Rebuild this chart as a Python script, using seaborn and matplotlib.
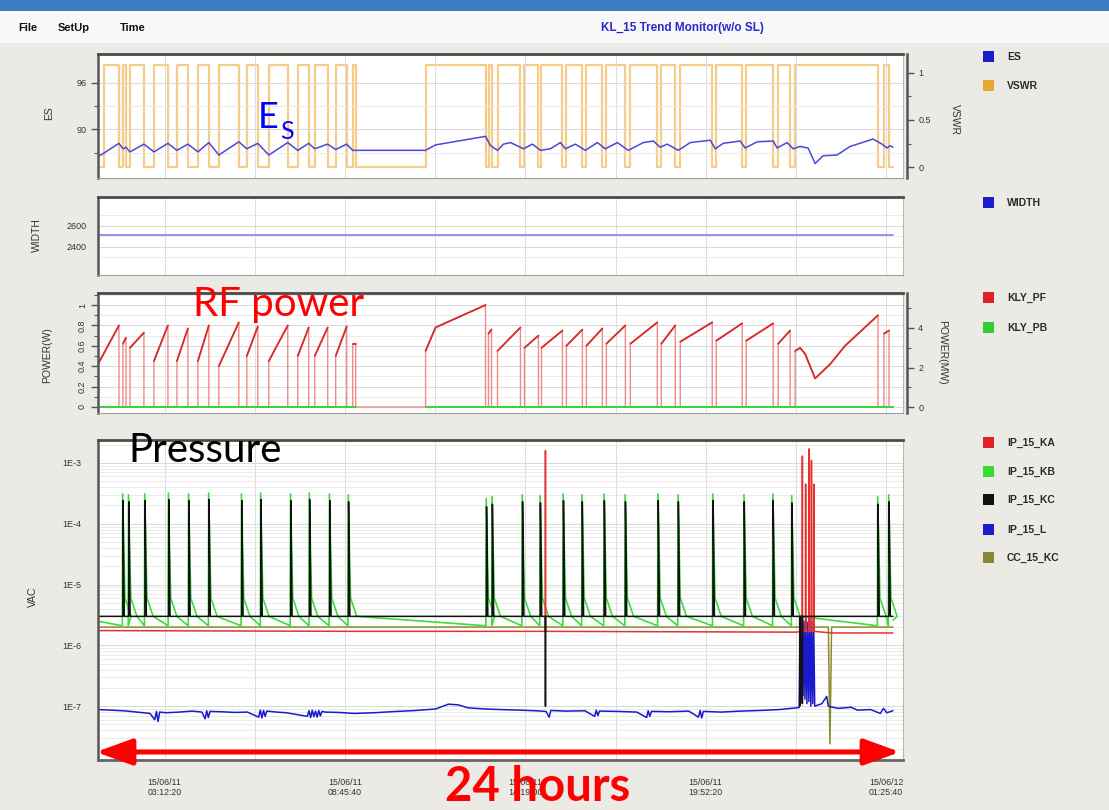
import matplotlib
matplotlib.use("Agg")
import matplotlib.pyplot as plt
import matplotlib.ticker as mticker
from matplotlib.patches import Rectangle, FancyArrowPatch
from matplotlib import font_manager
import seaborn as sns

# ---------------- data (time = hours from the left edge of the window) ----------------
x_major_hours = [2.055, 7.611, 13.166, 18.722, 24.277]
x_minor_hours = [4.833, 10.389, 15.944, 21.500]
x_tick_labels = ["15/06/11\n03:12:20", "15/06/11\n08:45:40", "15/06/11\n14:19:00",
                 "15/06/11\n19:52:20", "15/06/12\n01:25:40"]
x_window = [0.0, 24.8]
t_last = 24.49

# ES (left axis of panel 1)
es_t = [0.00, 0.09, 0.646, 0.77, 0.862, 0.985, 1.415, 1.723, 2.154, 2.431, 2.769, 3.077, 3.415,
        3.723, 4.338, 4.585, 4.923, 5.262, 5.846, 6.154, 6.492, 6.677, 7.077, 7.323, 7.662, 7.846,
        7.94, 10.092, 10.40, 11.938, 12.092, 12.308, 12.492, 12.708, 13.108, 13.385, 13.631, 13.938,
        14.246, 14.400, 14.708, 15.015, 15.385, 15.631, 16.000, 16.338, 16.800, 17.108, 17.323,
        17.538, 17.877, 18.246, 18.862, 19.015, 19.262, 19.785, 19.938, 20.308, 20.800, 20.923,
        21.231, 21.415, 21.631, 21.877, 22.092, 22.338, 22.769, 23.169, 23.877, 24.154, 24.308,
        24.400, 24.49]
es_v = [86.6, 86.7, 88.2, 87.5, 87.7, 87.1, 88.1, 87.1, 88.2, 87.3, 88.1, 87.1, 88.3,
        86.7, 88.4, 87.5, 88.2, 86.7, 88.3, 87.3, 88.2, 87.5, 88.1, 87.4, 88.1, 87.3,
        87.3, 87.3, 88.0, 89.1, 87.9, 87.3, 88.1, 88.3, 87.5, 88.1, 87.3, 87.5,
        88.3, 87.5, 88.1, 87.3, 88.3, 87.5, 88.3, 87.3, 88.3, 88.5, 87.7,
        88.1, 87.3, 88.3, 88.6, 87.5, 88.2, 88.5, 87.6, 88.4, 88.5, 87.6,
        88.3, 87.5, 87.8, 87.6, 85.6, 86.6, 86.7, 87.8, 88.75, 88.1, 87.6,
        87.9, 87.7]

# VSWR (right axis of panel 1): high between these times, low otherwise
vswr_on_start = [0.18, 0.769, 0.985, 1.723, 2.431, 3.077, 3.723, 4.585, 5.262, 6.154, 6.677, 7.323,
                 7.846, 10.092, 12.031, 12.308, 13.138, 13.662, 14.431, 15.046, 15.662, 16.400,
                 17.354, 17.938, 19.046, 19.969, 20.954, 21.477, 24.215]
vswr_on_end = [0.646, 0.862, 1.415, 2.154, 2.769, 3.415, 4.338, 4.923, 5.846, 6.492, 7.077, 7.662,
               7.938, 11.938, 12.123, 13.015, 13.569, 14.308, 14.923, 15.538, 16.246, 17.231,
               17.785, 18.923, 19.846, 20.800, 21.323, 24.031, 24.369]
vswr_high = 1.08
vswr_low = 0.0

# WIDTH
width_t = [0.0, t_last]
width_v = [2510, 2510]

# KLY_PF: ramps (time, power) of every RF period
power_cycles = [
    [(0.000, 0.42), (0.646, 0.80)],
    [(0.769, 0.62), (0.862, 0.68)],
    [(0.985, 0.58), (1.415, 0.73)],
    [(1.723, 0.45), (2.154, 0.80)],
    [(2.431, 0.45), (2.769, 0.77)],
    [(3.077, 0.45), (3.415, 0.80)],
    [(3.723, 0.40), (4.338, 0.83)],
    [(4.585, 0.50), (4.923, 0.79)],
    [(5.262, 0.45), (5.846, 0.80)],
    [(6.154, 0.50), (6.492, 0.78)],
    [(6.677, 0.50), (7.077, 0.78)],
    [(7.323, 0.50), (7.662, 0.79)],
    [(7.846, 0.62), (7.938, 0.62)],
    [(10.092, 0.55), (10.400, 0.78), (11.938, 1.00)],
    [(12.031, 0.72), (12.123, 0.76)],
    [(12.308, 0.55), (13.015, 0.78)],
    [(13.138, 0.58), (13.569, 0.70)],
    [(13.662, 0.58), (14.308, 0.75)],
    [(14.431, 0.60), (14.923, 0.76)],
    [(15.046, 0.60), (15.538, 0.77)],
    [(15.662, 0.62), (16.246, 0.80)],
    [(16.400, 0.62), (17.231, 0.83)],
    [(17.354, 0.62), (17.785, 0.80)],
    [(17.938, 0.64), (18.923, 0.83)],
    [(19.046, 0.65), (19.846, 0.82)],
    [(19.969, 0.65), (20.800, 0.82)],
    [(20.954, 0.62), (21.323, 0.75)],
    [(21.477, 0.55), (21.631, 0.58), (21.785, 0.52), (22.092, 0.28), (22.554, 0.42),
     (23.015, 0.60), (24.031, 0.90)],
    [(24.215, 0.72), (24.369, 0.75)],
]
# KLY_PB
pb_segments = [(0.0, 7.94), (10.09, t_last)]
pb_level = 0.0

# Vacuum
kc_spike_t = [0.77, 0.95, 1.45, 2.18, 2.80, 3.42, 4.43, 5.02, 5.94, 6.52, 7.14, 7.72, 11.97, 12.15,
              13.08, 13.63, 14.34, 14.92, 15.60, 16.25, 17.26, 17.88, 18.95, 19.91, 20.80, 21.38,
              24.03, 24.37]
kc_spike_v = [2.4e-4, 2.3e-4, 2.4e-4, 2.5e-4, 2.4e-4, 2.5e-4, 2.4e-4, 2.5e-4, 2.4e-4, 2.5e-4,
              2.4e-4, 2.3e-4, 1.9e-4, 2.1e-4, 2.3e-4, 2.2e-4, 2.4e-4, 2.3e-4, 2.4e-4, 2.3e-4,
              2.4e-4, 2.3e-4, 2.4e-4, 2.3e-4, 2.4e-4, 2.2e-4, 2.1e-4, 2.3e-4]
kb_spike_v = [3.1e-4, 3.0e-4, 3.1e-4, 3.2e-4, 3.1e-4, 3.2e-4, 3.1e-4, 3.2e-4, 3.1e-4, 3.2e-4,
              3.1e-4, 3.0e-4, 2.6e-4, 2.8e-4, 3.0e-4, 2.9e-4, 3.1e-4, 3.0e-4, 3.1e-4, 3.0e-4,
              3.1e-4, 3.0e-4, 3.1e-4, 3.0e-4, 3.1e-4, 2.9e-4, 2.8e-4, 3.0e-4]
kc_base = 3.0e-6
kc_drop_t = [13.785, 21.62, 21.70]
kc_drop_v = [1.0e-7, 1.0e-7, 1.1e-7]
kb_low, kb_after, kb_high = 2.1e-6, 6.0e-6, 3.0e-6
ka_base_t = [0.0, 7.94, 11.94, 21.5, 22.6, t_last]
ka_base_v = [1.75e-6, 1.7e-6, 1.7e-6, 1.65e-6, 1.6e-6, 1.6e-6]
ka_spike_t = [13.785, 21.70, 21.80, 21.90, 21.98, 22.05]
ka_spike_v = [1.6e-3, 1.3e-3, 4.5e-4, 1.7e-3, 1.1e-3, 4.5e-4]
cc_t = [0.0, 22.50, 22.55, 22.60, t_last]
cc_v = [2.0e-6, 2.0e-6, 2.4e-8, 2.0e-6, 2.0e-6]
ip_l_points = [
    (0.00, 8.8e-8), (0.40, 8.6e-8), (0.80, 8.4e-8), (1.20, 8.0e-8), (1.60, 7.6e-8), (1.75, 6.0e-8),
    (1.80, 8.2e-8), (1.85, 5.6e-8), (1.90, 8.0e-8), (2.10, 7.8e-8), (2.50, 8.0e-8), (2.90, 8.3e-8),
    (3.20, 8.0e-8), (3.30, 6.2e-8), (3.35, 8.4e-8), (3.40, 6.5e-8), (3.45, 8.2e-8), (3.80, 8.1e-8),
    (4.20, 7.9e-8), (4.60, 8.0e-8), (4.95, 6.6e-8), (5.00, 8.6e-8), (5.05, 6.4e-8), (5.10, 8.5e-8),
    (5.15, 6.8e-8), (5.20, 8.3e-8), (5.50, 8.0e-8), (5.80, 7.8e-8), (6.45, 6.8e-8), (6.50, 8.4e-8),
    (6.55, 6.5e-8), (6.60, 8.6e-8), (6.65, 6.7e-8), (6.70, 8.3e-8), (6.75, 6.6e-8), (6.80, 8.5e-8),
    (6.85, 6.9e-8), (6.90, 8.2e-8), (7.00, 8.0e-8), (7.40, 7.9e-8), (7.90, 7.6e-8), (8.50, 7.8e-8),
    (9.20, 8.2e-8), (9.80, 8.5e-8), (10.40, 9.0e-8), (10.80, 1.08e-7), (11.10, 1.05e-7),
    (11.40, 9.4e-8), (11.90, 9.0e-8), (12.40, 8.8e-8), (13.00, 8.6e-8), (13.50, 8.4e-8),
    (13.80, 8.2e-8), (13.90, 6.6e-8), (13.95, 8.5e-8), (14.40, 8.3e-8), (15.00, 8.4e-8),
    (15.30, 6.8e-8), (15.35, 8.6e-8), (15.40, 7.0e-8), (15.45, 8.3e-8), (16.00, 8.2e-8),
    (16.60, 8.0e-8), (16.90, 6.5e-8), (16.95, 8.4e-8), (17.00, 6.8e-8), (17.05, 8.2e-8),
    (17.60, 8.1e-8), (18.20, 8.3e-8), (18.50, 6.6e-8), (18.55, 8.5e-8), (18.60, 6.4e-8),
    (18.65, 8.2e-8), (19.20, 8.0e-8), (19.80, 8.3e-8), (20.40, 8.5e-8), (21.00, 8.8e-8),
    (21.60, 9.5e-8), (21.63, 2.6e-6), (21.66, 1.2e-7), (21.69, 2.8e-6), (21.72, 1.5e-7),
    (21.75, 2.5e-6), (21.78, 1.3e-7), (21.81, 2.7e-6), (21.84, 1.1e-7), (21.87, 2.4e-6),
    (21.90, 1.2e-7), (21.93, 2.7e-6), (21.96, 1.0e-7), (21.99, 2.5e-6), (22.02, 1.1e-7),
    (22.05, 2.2e-6), (22.08, 1.0e-7), (22.30, 1.1e-7), (22.45, 1.45e-7), (22.50, 1.0e-7),
    (22.80, 9.2e-8), (23.20, 9.6e-8), (23.40, 8.6e-8), (23.80, 8.8e-8), (24.10, 7.6e-8),
    (24.20, 9.2e-8), (24.30, 7.8e-8), (24.49, 8.4e-8)]

legend_groups = [
    [("ES", "#1c1ccc"), ("VSWR", "#e8a838")],
    [("WIDTH", "#1c1ccc")],
    [("KLY_PF", "#dd2222"), ("KLY_PB", "#33cc33")],
    [("IP_15_KA", "#dd2222"), ("IP_15_KB", "#33dd33"), ("IP_15_KC", "#111111"),
     ("IP_15_L", "#1c1ccc"), ("CC_15_KC", "#888833")],
]

# ---------------- figure ----------------
sns.set_style("white")
avail = {f.name for f in font_manager.fontManager.ttflist}
ui_font = "Liberation Sans Narrow" if "Liberation Sans Narrow" in avail else "Liberation Sans"
plt.rcParams["font.family"] = [ui_font, "DejaVu Sans"]
big_font = ["Lato", "DejaVu Sans"]

W, H = 1109, 810
fig = plt.figure(figsize=(W / 100, H / 100), dpi=100)
fig.patch.set_facecolor("#ebeae5")


def fx(px):
    return px / W


def fy(py):
    return 1 - py / H


def panel(x0, y0, x1, y1):
    return fig.add_axes([fx(x0), fy(y1), (x1 - x0) / W, (y1 - y0) / H])


def style(ax, bottom=False):
    ax.set_facecolor("white")
    ax.spines["top"].set_color("#4a4a4a"); ax.spines["top"].set_linewidth(2.0)
    ax.spines["left"].set_color("#555555"); ax.spines["left"].set_linewidth(1.8)
    ax.spines["bottom"].set_color("#666666" if bottom else "#a0a0a0")
    ax.spines["bottom"].set_linewidth(2.0 if bottom else 0.8)
    ax.spines["right"].set_color("#b8b8b8"); ax.spines["right"].set_linewidth(0.8)
    ax.set_xlim(x_window)
    ax.set_xticks(x_major_hours)
    ax.set_xticks(x_minor_hours, minor=True)
    ax.grid(True, which="both", axis="x", color="#dddddd", lw=0.7)
    ax.grid(True, which="major", axis="y", color="#d8d8d8", lw=0.7)
    ax.grid(True, which="minor", axis="y", color="#e8e8e8", lw=0.6)
    ax.set_axisbelow(True)
    ax.tick_params(axis="y", which="major", direction="out", length=5, width=1.0,
                   color="#555555", labelsize=6.5, labelcolor="#333333", pad=3)
    ax.tick_params(axis="y", which="minor", direction="out", length=3, width=0.8, color="#555555")
    if bottom:
        ax.set_xticklabels(x_tick_labels)
        ax.tick_params(axis="x", which="major", direction="out", length=7, width=1.0,
                       color="#555555", labelsize=6.3, labelcolor="#333333", pad=6)
        ax.tick_params(axis="x", which="minor", direction="out", length=4, width=1.0,
                       color="#555555")
    else:
        ax.tick_params(axis="x", which="both", length=0, labelbottom=False)
    ax.set_xlabel(""); ax.set_ylabel("")


def right_axis(ax):
    r = ax.twinx()
    for s in ["top", "bottom", "left"]:
        r.spines[s].set_visible(False)
    r.spines["right"].set_position(("outward", 3))
    r.spines["right"].set_color("#555555"); r.spines["right"].set_linewidth(1.8)
    r.tick_params(axis="y", which="major", direction="out", length=5, width=1.0,
                  color="#555555", labelsize=6.5, labelcolor="#333333", pad=3)
    r.tick_params(axis="y", which="minor", direction="out", length=3, width=0.8, color="#555555")
    r.grid(False)
    return r


def line(ax, x, y, color, lw=1.0, alpha=1.0):
    sns.lineplot(x=list(x), y=list(y), ax=ax, sort=False, estimator=None, color=color,
                 linewidth=lw, alpha=alpha, legend=False)


# ---- panel 1 : ES / VSWR ----
ax1 = panel(98, 54, 903, 178)
style(ax1)
ax1r = right_axis(ax1)
ax1.set_zorder(ax1r.get_zorder() + 1)
ax1.patch.set_visible(False)
ax1r.patch.set_visible(True)
ax1r.set_facecolor("white")

vs_t, vs_v = [0.0], [vswr_low]
for s, e in zip(vswr_on_start, vswr_on_end):
    vs_t += [s, s, e, e]
    vs_v += [vswr_low, vswr_high, vswr_high, vswr_low]
vs_t.append(t_last); vs_v.append(vswr_low)
line(ax1r, vs_t, vs_v, "#f0b24a", lw=1.6, alpha=0.65)
line(ax1, es_t, es_v, "#4848dd", lw=1.1)

ax1.set_ylim(83.74, 99.7)
ax1.set_yticks([90, 96]); ax1.set_yticklabels(["90", "96"])
ax1.set_yticks([87, 93], minor=True)
ax1r.set_ylim(-0.116, 1.2)
ax1r.set_yticks([0, 0.5, 1]); ax1r.set_yticklabels(["0", "0.5", "1"])
ax1r.set_yticks([0.25, 0.75], minor=True)
ax1r.set_xlim(x_window)
ax1r.set_ylabel("")

# ---- panel 2 : WIDTH ----
ax2 = panel(98, 197, 903, 275)
style(ax2)
line(ax2, width_t, width_v, "#8a8af2", lw=1.3)
ax2.set_ylim(2130, 2873)
ax2.set_yticks([2400, 2600]); ax2.set_yticklabels(["2400", "2600"])
ax2.set_yticks([2300, 2500, 2700], minor=True)

# ---- panel 3 : POWER ----
ax3 = panel(98, 293, 903, 413)
style(ax3)
ax3r = right_axis(ax3)
pf_t, pf_v = [], []
for cyc in power_cycles:
    pf_t.append(cyc[0][0]); pf_v.append(0.0)
    for t, v in cyc:
        pf_t.append(t); pf_v.append(v)
    pf_t.append(cyc[-1][0]); pf_v.append(0.0)
pf_t.append(t_last); pf_v.append(0.0)
line(ax3, pf_t, pf_v, "#f08a8a", lw=1.0)
for cyc in power_cycles:
    line(ax3, [p[0] for p in cyc], [p[1] for p in cyc], "#d92a2a", lw=1.3)
for a, b in pb_segments:
    line(ax3, [a, b], [pb_level, pb_level], "#3fcf3f", lw=1.4)
ax3.set_ylim(-0.059, 1.118)
ax3.set_yticks([0, 0.2, 0.4, 0.6, 0.8, 1.0])
ax3.set_yticklabels(["0", "0.2", "0.4", "0.6", "0.8", "1"], rotation=90, va="center")
ax3.yaxis.set_minor_locator(mticker.MultipleLocator(0.1))
ax3r.set_ylim(-0.30, 5.77)
ax3r.set_yticks([0, 2, 4]); ax3r.set_yticklabels(["0", "2", "4"])
ax3r.set_yticks([1, 3, 5], minor=True)
ax3r.set_ylabel("")

# ---- panel 4 : VAC ----
ax4 = panel(98, 440, 903, 760)
style(ax4, bottom=True)
ax4.set_yscale("log")

kc_pts = [(0.0, kc_base), (t_last, kc_base)]
for t, p in zip(kc_spike_t, kc_spike_v):
    kc_pts += [(t - 0.005, kc_base), (t, p), (t + 0.04, kc_base)]
for t, d in zip(kc_drop_t, kc_drop_v):
    kc_pts += [(t - 0.004, kc_base), (t, d), (t + 0.004, kc_base)]
kc_pts.sort(key=lambda p: p[0])

kb_pts = [(0.0, 2.5e-6)]
for t, p in zip(kc_spike_t, kb_spike_v):
    kb_pts += [(t - 0.02, kb_low), (t - 0.01, p), (t + 0.06, kb_after), (t + 0.25, kb_high)]
kb_pts.append((t_last, 2.6e-6))

ka_pts = list(zip(ka_base_t, ka_base_v))
for t, p in zip(ka_spike_t, ka_spike_v):
    ka_pts += [(t - 0.005, 1.7e-6), (t, p), (t + 0.005, 1.7e-6)]
ka_pts.sort(key=lambda p: p[0])

line(ax4, cc_t, cc_v, "#8b8b2e", lw=1.1)
line(ax4, [p[0] for p in kb_pts], [p[1] for p in kb_pts], "#3ddc3d", lw=1.2)
line(ax4, [p[0] for p in ip_l_points], [p[1] for p in ip_l_points], "#1a1acc", lw=1.1)
line(ax4, [p[0] for p in ka_pts], [p[1] for p in ka_pts], "#e83030", lw=1.1)
line(ax4, [p[0] for p in kc_pts], [p[1] for p in kc_pts], "#111111", lw=1.1)

ax4.set_ylim(10 ** -7.885, 10 ** -2.623)
ax4.set_yticks([1e-7, 1e-6, 1e-5, 1e-4, 1e-3])
ax4.set_yticklabels(["1E-7", "1E-6", "1E-5", "1E-4", "1E-3"])
ax4.yaxis.set_minor_locator(mticker.LogLocator(base=10, subs=[2, 3, 4, 5, 6, 7, 8, 9], numticks=20))
ax4.yaxis.set_minor_formatter(mticker.NullFormatter())
ax4.tick_params(axis="y", which="major", length=6, pad=6)
ax4.set_xlim(x_window)

# ---- axis titles ----
lab = dict(fontsize=7.5, color="#333333", ha="center", va="center")
fig.text(fx(49), fy(113), "ES", rotation=90, **lab)
fig.text(fx(37), fy(235), "WIDTH", rotation=90, **lab)
fig.text(fx(47), fy(355), "POWER(W)", rotation=90, **lab)
fig.text(fx(33), fy(597), "VAC", rotation=90, **lab)
fig.text(fx(955), fy(120), "VSWR", rotation=270, **lab)
fig.text(fx(942), fy(352), "POWER(MW)", rotation=270, **lab)

# ---- legends ----
legend_rows = [57, 86, 203, 298, 328, 443, 472, 500, 530, 558]
row = 0
for group in legend_groups:
    for name, col in group:
        yy = legend_rows[row]
        fig.add_artist(Rectangle((fx(983), fy(yy + 5)), 11 / W, 11 / H, transform=fig.transFigure,
                                 facecolor=col, edgecolor="none"))
        fig.text(fx(1007), fy(yy), name, fontsize=7.5, fontweight="bold", color="#2a2a2a",
                 ha="left", va="center")
        row += 1

# ---- window chrome ----
fig.add_artist(Rectangle((0, fy(11)), 1, 11 / H, transform=fig.transFigure,
                         facecolor="#3b7bc2", edgecolor="none"))
fig.add_artist(Rectangle((0, fy(43)), 1, 32 / H, transform=fig.transFigure,
                         facecolor="#f8f8f8", edgecolor="none"))
menu = dict(fontsize=8, fontweight="bold", color="#111111", va="center", ha="left")
fig.text(fx(18), fy(28), "File", **menu)
fig.text(fx(58), fy(28), "SetUp", **menu)
fig.text(fx(120), fy(28), "Time", **menu)
fig.text(fx(682), fy(28), "KL_15 Trend Monitor(w/o SL)", fontsize=8.5, fontweight="bold",
         color="#2a2acc", ha="center", va="center")

# ---- annotations ----
fig.text(fx(258), fy(128), "E", fontsize=26, color="#0000ff", family=big_font, va="baseline")
fig.text(fx(280), fy(139), "S", fontsize=18, color="#0000ff", family=big_font, va="baseline")
fig.text(fx(193), fy(316), "RF power", fontsize=29, color="#ff0000", family=big_font,
         va="baseline")
fig.text(fx(128), fy(462), "Pressure", fontsize=29, color="#000000", family=big_font,
         va="baseline")
fig.text(fx(538), fy(801), "24 hours", fontsize=34, fontweight="bold", color="#ff0000",
         family=big_font, ha="center", va="baseline")
arrow = FancyArrowPatch((fx(96), fy(752)), (fx(900), fy(752)), transform=fig.transFigure,
                        arrowstyle="<|-|>,head_length=1.1,head_width=0.4", mutation_scale=20,
                        lw=3.6, color="#ff0000", shrinkA=0, shrinkB=0)
fig.add_artist(arrow)

fig.savefig("out.png", dpi=100, facecolor=fig.get_facecolor())
